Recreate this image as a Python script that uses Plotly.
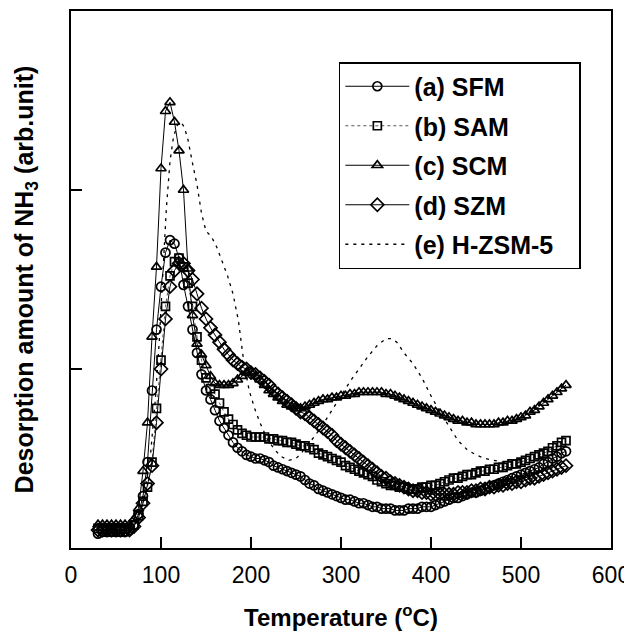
import plotly.graph_objects as go

# Temperature grid of the marker series (deg C)
temp = list(range(30, 551, 5))

sfm = [0.08, 0.09, 0.09, 0.09, 0.09, 0.09, 0.09, 0.10, 0.13, 0.19,
       0.29, 0.48, 0.88, 1.22, 1.46, 1.65, 1.72, 1.70, 1.62, 1.47,
       1.35, 1.22, 1.09, 0.97, 0.88, 0.83, 0.77, 0.71, 0.67, 0.63,
       0.59, 0.56, 0.54, 0.52, 0.51, 0.50, 0.50, 0.49, 0.48, 0.46,
       0.45, 0.44, 0.43, 0.42, 0.41, 0.40, 0.38, 0.36, 0.35, 0.33,
       0.32, 0.31, 0.30, 0.29, 0.28, 0.27, 0.27, 0.26, 0.25, 0.25,
       0.24, 0.23, 0.23, 0.22, 0.22, 0.22, 0.21, 0.21, 0.21, 0.22,
       0.22, 0.22, 0.23, 0.23, 0.23, 0.24, 0.25, 0.26, 0.27, 0.28,
       0.28, 0.29, 0.30, 0.31, 0.31, 0.32, 0.33, 0.34, 0.35, 0.36,
       0.37, 0.38, 0.39, 0.40, 0.41, 0.42, 0.43, 0.44, 0.45, 0.47,
       0.48, 0.50, 0.51, 0.53, 0.54]

sam = [0.11, 0.11, 0.11, 0.11, 0.11, 0.11, 0.11, 0.11, 0.13, 0.18,
       0.26, 0.34, 0.48, 0.78, 1.05, 1.35, 1.52, 1.60, 1.62, 1.57,
       1.48, 1.35, 1.18, 1.05, 0.95, 0.89, 0.86, 0.81, 0.76, 0.72,
       0.69, 0.66, 0.64, 0.63, 0.62, 0.62, 0.62, 0.62, 0.61, 0.61,
       0.60, 0.60, 0.59, 0.59, 0.58, 0.57, 0.57, 0.56, 0.55, 0.53,
       0.52, 0.51, 0.50, 0.49, 0.48, 0.46, 0.45, 0.44, 0.43, 0.42,
       0.41, 0.40, 0.38, 0.37, 0.36, 0.35, 0.35, 0.34, 0.34, 0.33,
       0.33, 0.33, 0.34, 0.34, 0.35, 0.35, 0.36, 0.37, 0.38, 0.39,
       0.39, 0.40, 0.41, 0.41, 0.42, 0.43, 0.43, 0.44, 0.44, 0.45,
       0.45, 0.46, 0.47, 0.47, 0.48, 0.49, 0.50, 0.51, 0.52, 0.53,
       0.54, 0.56, 0.57, 0.59, 0.60]

scm = [0.13, 0.13, 0.13, 0.13, 0.13, 0.13, 0.13, 0.13, 0.16, 0.22,
       0.43, 0.70, 1.18, 1.57, 2.12, 2.44, 2.49, 2.38, 2.22, 2.00,
       1.56, 1.30, 1.14, 1.08, 1.02, 0.96, 0.92, 0.91, 0.91, 0.91,
       0.92, 0.94, 0.96, 0.98, 0.98, 0.96, 0.94, 0.91, 0.88, 0.86,
       0.84, 0.82, 0.80, 0.79, 0.78, 0.78, 0.79, 0.80, 0.81, 0.82,
       0.83, 0.83, 0.84, 0.84, 0.85, 0.85, 0.86, 0.86, 0.87, 0.87,
       0.87, 0.87, 0.87, 0.87, 0.86, 0.86, 0.85, 0.84, 0.83, 0.82,
       0.81, 0.80, 0.79, 0.78, 0.77, 0.76, 0.75, 0.74, 0.73, 0.72,
       0.71, 0.71, 0.70, 0.70, 0.69, 0.69, 0.69, 0.69, 0.69, 0.70,
       0.70, 0.71, 0.71, 0.72, 0.73, 0.74, 0.76, 0.77, 0.79, 0.81,
       0.83, 0.85, 0.87, 0.89, 0.91]

szm = [0.10, 0.10, 0.10, 0.10, 0.10, 0.10, 0.10, 0.10, 0.12, 0.17,
       0.25, 0.36, 0.46, 0.70, 1.00, 1.28, 1.46, 1.55, 1.59, 1.59,
       1.55, 1.50, 1.42, 1.34, 1.28, 1.23, 1.19, 1.15, 1.11, 1.08,
       1.05, 1.03, 1.01, 1.00, 0.98, 0.97, 0.95, 0.93, 0.91, 0.88,
       0.86, 0.84, 0.82, 0.80, 0.78, 0.76, 0.75, 0.73, 0.71, 0.69,
       0.67, 0.65, 0.63, 0.60, 0.58, 0.56, 0.54, 0.52, 0.50, 0.48,
       0.46, 0.44, 0.42, 0.40, 0.39, 0.37, 0.36, 0.35, 0.34, 0.33,
       0.32, 0.32, 0.31, 0.31, 0.30, 0.30, 0.30, 0.30, 0.30, 0.30,
       0.31, 0.31, 0.31, 0.32, 0.32, 0.33, 0.33, 0.34, 0.34, 0.35,
       0.35, 0.36, 0.36, 0.37, 0.37, 0.38, 0.39, 0.39, 0.40, 0.41,
       0.42, 0.43, 0.44, 0.45, 0.46]

hzsm_t = [30, 60, 70, 80, 88, 94, 98, 102, 106, 110, 114, 118, 122, 126, 130,
          135, 140, 145, 150, 156, 162, 168, 174, 180, 186, 192, 198, 204, 210,
          218, 226, 234, 242, 250, 256, 262, 270, 280, 290, 300, 310, 320, 330,
          340, 350, 356, 362, 370, 380, 390, 400, 410, 420, 430, 440, 450, 460,
          470, 480, 490, 500]
hzsm = [0.10, 0.10, 0.13, 0.25, 0.50, 0.85, 1.15, 1.50, 1.90, 2.16, 2.30, 2.36,
        2.38, 2.35, 2.28, 2.15, 2.03, 1.87, 1.77, 1.74, 1.68, 1.60, 1.52, 1.42,
        1.27, 1.04, 0.88, 0.78, 0.70, 0.61, 0.55, 0.51, 0.49, 0.50, 0.53, 0.57,
        0.62, 0.69, 0.77, 0.85, 0.93, 1.00, 1.07, 1.13, 1.17, 1.17, 1.15, 1.09,
        1.03, 0.95, 0.85, 0.76, 0.68, 0.60, 0.55, 0.52, 0.50, 0.49, 0.48, 0.48,
        0.48]

x_ticks = [0, 100, 200, 300, 400, 500, 600]

FONT = "Liberation Sans, Arial, sans-serif"
PAD = "&nbsp;&nbsp;&nbsp;"

fig = go.Figure()
fig.add_trace(go.Scatter(
    x=temp, y=sfm, name="<b>(a) SFM</b>" + PAD, legendgroup="a", mode="lines+markers",
    line=dict(color="black", width=1),
    marker=dict(symbol="circle-open", size=9, color="black", line=dict(width=1.7))))
fig.add_trace(go.Scatter(
    x=temp, y=sam, name="<b>(b) SAM</b>" + PAD, legendgroup="b", mode="lines+markers",
    line=dict(color="#555555", width=1, dash="dot"),
    marker=dict(symbol="square-open", size=8, color="black", line=dict(width=1.7))))
fig.add_trace(go.Scatter(
    x=temp, y=scm, name="<b>(c) SCM</b>" + PAD, legendgroup="c", mode="lines+markers",
    line=dict(color="black", width=1),
    marker=dict(symbol="triangle-up-open", size=9, color="black", line=dict(width=1.7))))
fig.add_trace(go.Scatter(
    x=temp, y=szm, name="<b>(d) SZM</b>" + PAD, legendgroup="d", mode="lines+markers",
    line=dict(color="black", width=1),
    marker=dict(symbol="diamond-open", size=10, color="black", line=dict(width=1.7))))
fig.add_trace(go.Scatter(
    x=hzsm_t, y=hzsm, name="<b>(e) H-ZSM-5</b>" + PAD, legendgroup="e", mode="lines",
    line=dict(color="black", width=1.3, dash="3px,5px")))

# The page body has an 8px margin, so the margins are offset accordingly
fig.update_layout(
    width=632, height=632,
    margin=dict(l=63, r=29, t=3, b=92),
    paper_bgcolor="white", plot_bgcolor="white",
    font=dict(family=FONT, color="black", size=23),
    showlegend=True,
    legend=dict(
        x=0.496, y=0.905, xanchor="left", yanchor="top",
        bgcolor="white", bordercolor="black", borderwidth=1.5,
        font=dict(family=FONT, size=25, color="black"),
        tracegroupgap=4, itemwidth=64,
    ),
    xaxis=dict(
        range=[0, 600], tickvals=x_ticks, ticktext=[str(v) for v in x_ticks],
        ticks="inside", ticklen=11, tickwidth=1.5, tickcolor="black",
        showline=True, linecolor="black", linewidth=1.5, mirror=True,
        showgrid=False, zeroline=False, automargin=False,
        tickfont=dict(family=FONT, size=23, color="black"),
        ticklabelstandoff=6,
        title=dict(text="<b>Temperature (<sup>o</sup>C)</b>",
                   font=dict(family=FONT, size=24, color="black"), standoff=22),
    ),
    yaxis=dict(
        range=[0, 3], tickvals=[1, 2], showticklabels=False,
        ticks="inside", ticklen=11, tickwidth=1.5, tickcolor="black",
        showline=True, linecolor="black", linewidth=1.5, mirror=True,
        showgrid=False, zeroline=False, automargin=False,
        title=dict(text="<b>Desorption amount of NH<sub>3</sub> (arb.unit)</b>",
                   font=dict(family=FONT, size=25, color="black"), standoff=29),
    ),
)

fig.write_html("out.html")
